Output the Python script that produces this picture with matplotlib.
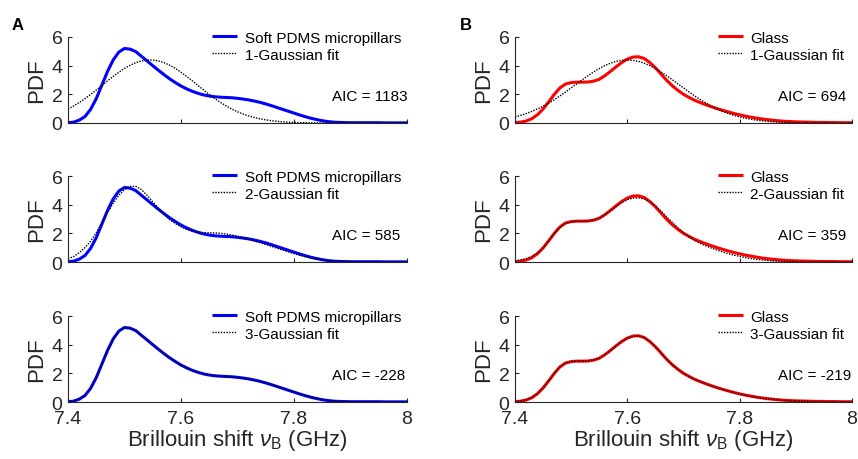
import numpy as np
import matplotlib
matplotlib.use("Agg")
import matplotlib.pyplot as plt
import matplotlib.transforms as mtransforms

plt.rcParams['font.family'] = ['Liberation Sans', 'DejaVu Sans']
plt.rcParams['mathtext.fontset'] = 'custom'
plt.rcParams['mathtext.rm'] = 'Liberation Sans'
plt.rcParams['mathtext.it'] = 'Liberation Sans:italic'

# Brillouin shift sample grid (GHz), 7.40 ... 8.00 step 0.01
shift = np.linspace(7.4, 8.0, 61)

pdms_data = [0.02, 0.06, 0.20, 0.45, 0.95, 1.70, 2.65, 3.60, 4.40, 4.95,
             5.20, 5.15, 4.98, 4.65, 4.33, 4.00, 3.68, 3.37, 3.08, 2.82,
             2.58, 2.38, 2.21, 2.07, 1.96, 1.88, 1.83, 1.80, 1.78, 1.76,
             1.72, 1.67, 1.61, 1.53, 1.44, 1.33, 1.21, 1.08, 0.95, 0.82,
             0.69, 0.56, 0.44, 0.33, 0.24, 0.16, 0.10, 0.06, 0.04, 0.03,
             0.02, 0.02, 0.02, 0.02, 0.02, 0.02, 0.01, 0.01, 0.01, 0.01,
             0.01]
pdms_fit1 = [0.97, 1.19, 1.43, 1.70, 1.99, 2.30, 2.62, 2.94, 3.25, 3.54,
             3.81, 4.03, 4.21, 4.33, 4.39, 4.39, 4.33, 4.21, 4.03, 3.81,
             3.54, 3.25, 2.94, 2.62, 2.30, 1.99, 1.70, 1.43, 1.19, 0.97,
             0.78, 0.62, 0.49, 0.38, 0.29, 0.22, 0.16, 0.12, 0.08, 0.06,
             0.04, 0.03, 0.02, 0.01, 0.01, 0.0, 0.0, 0.0, 0.0, 0.0,
             0.0, 0.0, 0.0, 0.0, 0.0, 0.0, 0.0, 0.0, 0.0, 0.0,
             0.0]
pdms_fit2 = [0.23, 0.38, 0.65, 1.00, 1.45, 2.05, 2.75, 3.45, 4.10, 4.65,
             5.05, 5.27, 5.28, 5.05, 4.65, 4.20, 3.75, 3.32, 2.95, 2.68,
             2.45, 2.27, 2.15, 2.08, 2.05, 2.04, 2.03, 2.00, 1.95, 1.88,
             1.80, 1.70, 1.59, 1.47, 1.35, 1.22, 1.09, 0.96, 0.83, 0.70,
             0.58, 0.47, 0.37, 0.28, 0.21, 0.15, 0.10, 0.07, 0.04, 0.03,
             0.02, 0.01, 0.0, 0.0, 0.0, 0.0, 0.0, 0.0, 0.0, 0.0,
             0.0]
pdms_fit3 = [0.03, 0.07, 0.20, 0.46, 0.96, 1.70, 2.64, 3.58, 4.39, 4.94,
             5.19, 5.15, 4.97, 4.65, 4.33, 4.01, 3.69, 3.38, 3.08, 2.82,
             2.58, 2.38, 2.21, 2.07, 1.97, 1.89, 1.84, 1.80, 1.77, 1.75,
             1.71, 1.66, 1.60, 1.52, 1.43, 1.33, 1.21, 1.09, 0.96, 0.83,
             0.70, 0.57, 0.45, 0.34, 0.25, 0.17, 0.11, 0.07, 0.04, 0.03,
             0.02, 0.01, 0.01, 0.01, 0.01, 0.0, 0.0, 0.0, 0.0, 0.0,
             0.0]

glass_data = [0.02, 0.06, 0.14, 0.30, 0.58, 0.98, 1.48, 2.00, 2.45, 2.72,
              2.82, 2.85, 2.85, 2.86, 2.92, 3.05, 3.30, 3.60, 3.92, 4.22,
              4.46, 4.60, 4.62, 4.50, 4.22, 3.85, 3.42, 2.98, 2.60, 2.28,
              2.00, 1.78, 1.58, 1.42, 1.27, 1.13, 1.00, 0.88, 0.77, 0.66,
              0.57, 0.48, 0.41, 0.34, 0.28, 0.23, 0.19, 0.15, 0.12, 0.10,
              0.08, 0.07, 0.06, 0.05, 0.04, 0.04, 0.03, 0.03, 0.02, 0.02,
              0.02]
glass_fit1 = [0.42, 0.53, 0.66, 0.81, 0.98, 1.17, 1.39, 1.63, 1.89, 2.16,
              2.45, 2.73, 3.02, 3.30, 3.56, 3.80, 4.01, 4.17, 4.30, 4.37,
              4.40, 4.37, 4.30, 4.17, 4.01, 3.80, 3.56, 3.30, 3.02, 2.73,
              2.45, 2.16, 1.89, 1.63, 1.39, 1.17, 0.98, 0.81, 0.66, 0.53,
              0.42, 0.33, 0.26, 0.20, 0.15, 0.11, 0.08, 0.06, 0.04, 0.03,
              0.02, 0.01, 0.01, 0.0, 0.0, 0.0, 0.0, 0.0, 0.0, 0.0,
              0.0]
glass_fit2 = [0.08, 0.14, 0.24, 0.40, 0.64, 1.00, 1.47, 1.98, 2.42, 2.70,
              2.82, 2.84, 2.84, 2.86, 2.93, 3.07, 3.30, 3.58, 3.88, 4.15,
              4.35, 4.46, 4.47, 4.40, 4.20, 3.92, 3.55, 3.15, 2.76, 2.38,
              2.04, 1.75, 1.50, 1.30, 1.12, 0.97, 0.83, 0.70, 0.58, 0.48,
              0.39, 0.31, 0.24, 0.18, 0.14, 0.10, 0.07, 0.05, 0.03, 0.02,
              0.01, 0.01, 0.0, 0.0, 0.0, 0.0, 0.0, 0.0, 0.0, 0.0,
              0.0]
glass_fit3 = [0.03, 0.07, 0.15, 0.31, 0.59, 0.98, 1.47, 1.99, 2.44, 2.72,
              2.83, 2.85, 2.85, 2.87, 2.93, 3.06, 3.30, 3.60, 3.92, 4.21,
              4.45, 4.59, 4.61, 4.49, 4.22, 3.85, 3.43, 2.99, 2.61, 2.28,
              2.00, 1.77, 1.58, 1.41, 1.26, 1.12, 0.99, 0.87, 0.76, 0.66,
              0.56, 0.48, 0.40, 0.33, 0.27, 0.22, 0.18, 0.14, 0.11, 0.09,
              0.07, 0.06, 0.05, 0.04, 0.03, 0.03, 0.02, 0.02, 0.02, 0.01,
              0.01]

fit_labels = ['1-Gaussian fit', '2-Gaussian fit', '3-Gaussian fit']
aic_pdms = [1183, 585, -228]
aic_glass = [694, 359, -219]
x_ticks = [7.4, 7.6, 7.8, 8.0]
x_ticklabels = ['7.4', '7.6', '7.8', '8']
y_ticks = [0, 2, 4, 6]

columns = [
    dict(name='Soft PDMS micropillars', color=(0, 0, 1), data=pdms_data,
         fits=[pdms_fit1, pdms_fit2, pdms_fit3], aic=aic_pdms, panel='A',
         leg_x=0.982),
    dict(name='Glass', color=(1, 0, 0), data=glass_data,
         fits=[glass_fit1, glass_fit2, glass_fit3], aic=aic_glass, panel='B',
         leg_x=0.977),
]

W, H = 858, 460
fig = plt.figure(figsize=(W / 100, H / 100), dpi=100)
axc = '#262626'

col_x = [(68, 339), (515, 337)]
row_y = [(124, 86), (263, 86), (403, 86)]  # bottom pixel, height

for ci, col in enumerate(columns):
    x0, w = col_x[ci]
    for ri in range(3):
        yb, h = row_y[ri]
        ax = fig.add_axes([x0 / W, 1 - yb / H, w / W, h / H])
        ax.plot(shift, col['data'], color=col['color'], lw=2.2,
                label=col['name'], solid_capstyle='butt')
        ax.plot(shift, col['fits'][ri], color='black', lw=1.0,
                linestyle=(0, (1, 1)), label=fit_labels[ri])
        ax.set_xlim(7.4, 8.0)
        ax.set_ylim(0, 6)
        ax.set_xticks(x_ticks)
        ax.set_yticks(y_ticks)
        ax.set_yticklabels([str(t) for t in y_ticks])
        for s in ['top', 'right']:
            ax.spines[s].set_visible(False)
        for s in ['left', 'bottom']:
            ax.spines[s].set_color(axc)
            ax.spines[s].set_linewidth(0.8)
        ax.tick_params(direction='in', length=3, width=0.8, colors=axc,
                       labelsize=14)
        ax.tick_params(axis='y', pad=4)
        ax.tick_params(axis='x', pad=6)
        if ri == 2:
            ax.set_xticklabels(x_ticklabels)
            ax.set_xlabel(r'Brillouin shift $\nu_{\rm B}$ (GHz)',
                          fontsize=16, color=axc, labelpad=0)
        else:
            ax.set_xticklabels([])
        ax.set_ylabel('PDF', fontsize=16, color=axc, labelpad=3)
        trans = mtransforms.blended_transform_factory(ax.transAxes, ax.transData)
        ax.text(0.78, 1.9, 'AIC = %d' % col['aic'][ri], transform=trans,
                ha='left', va='center', fontsize=11, color='black')
        ax.legend(loc='upper right', bbox_to_anchor=(col['leg_x'], 1.075),
                  frameon=False, fontsize=11, handlelength=1.6,
                  handletextpad=0.5, labelspacing=0.2, borderaxespad=0,
                  borderpad=0)
    fig.text((18 if ci == 0 else 466) / W, 1 - 25 / H, col['panel'],
             fontsize=12, fontweight='bold', ha='center', va='center')

fig.savefig('out.png', dpi=100)
